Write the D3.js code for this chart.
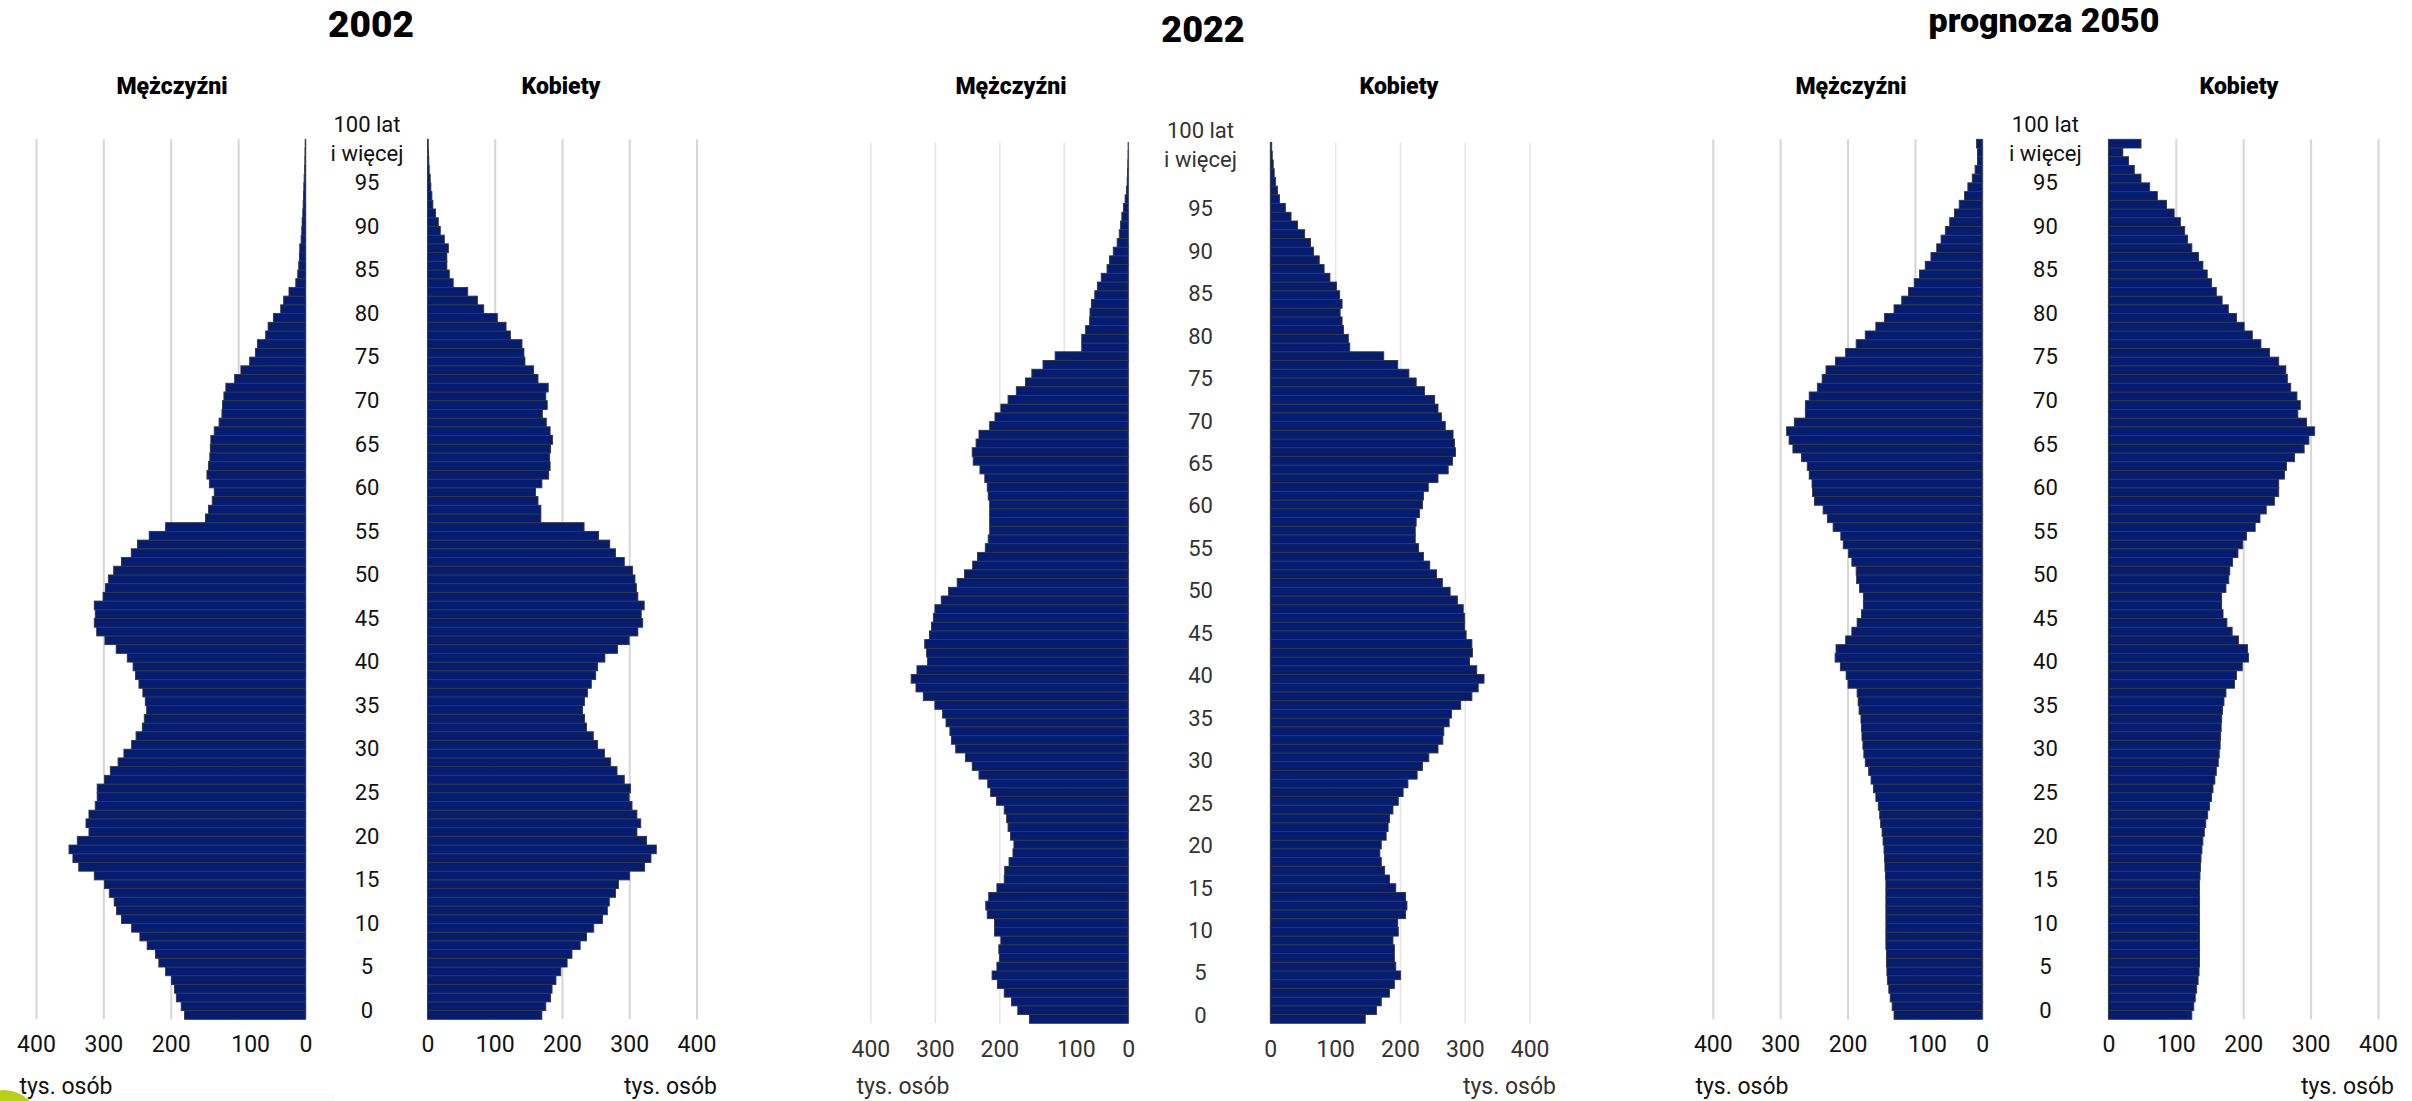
<!DOCTYPE html>
<html lang="pl">
<head>
<meta charset="utf-8">
<title>Piramida wieku ludności Polski 2002, 2022, prognoza 2050</title>
<script src="https://d3js.org/d3.v7.min.js"></script>
<style>
  html, body { margin: 0; padding: 0; background: #fff; }
  svg { display: block; }
  text { font-family: Roboto, "Noto Sans", sans-serif; }
  .title { font-weight: 900; fill: #000; }
  .sex { font-weight: 900; fill: #000; }
</style>
</head>
<body>
<div id="chart"></div>
<script>

// ages 0 .. 100 (the last bar is "100 lat i więcej"), values in thousands
var ages = d3.range(0, 101);

var men2002 = [179.5,184.5,191.7,194.6,198.9,207.6,217.7,222.7,235,245.8,
  258,273.2,280.4,284,291.2,298.4,313.5,336.6,345.2,351,
  338.7,321.4,325.8,321.4,312.1,309.2,309.2,298.4,289.7,278.2,
  269.5,258,251.5,242.2,239.3,235.7,237.8,241.4,247.2,252.3,
  255.9,264.5,281,297.7,309.9,313.5,312,313.5,300.5,297,
  292.6,284.7,273.2,258.7,249.4,232,207.6,148.5,144.1,138.4,
  135.5,142.7,146.3,144.1,142,141.3,140.5,135.5,128.3,124,
  123.2,121.1,118.2,105.2,95.9,82.9,74.2,71.4,59.1,55.5,
  47.6,36.8,32.4,24.5,14.4,11.5,10,9,8.5,6.5,
  5.5,5,4,3.5,3,2.5,2,1.5,1,0.8,0.5];

var women2002 = [170.1,175.9,183.1,185.2,191,198.2,207.6,214.8,227,236.4,
  247.2,260.2,267.4,270.3,279.6,284,300.5,322.9,332.3,340.2,
  325.8,311.4,317.1,311.4,304.1,299.8,302,292.6,281.8,272.4,
  263.1,253,246.5,236.4,233.5,230.6,233.5,237.8,243.6,250.1,
  253,263.8,282.5,299.8,312.8,320,317.8,322.2,312.8,310.6,
  308.5,304.9,292.6,279.6,271,254.4,232.8,168.6,168.6,164.3,
  160.7,170.1,180.2,182.3,181.6,183.1,186,182.3,176.6,170.8,
  178,175.9,179.5,164.3,157.8,144.9,143.4,140.5,123.2,116.8,
  103.8,83.6,74.2,59.8,38.2,32.4,28.8,28.8,31,25,
  19,16,12,8,6.5,5,4,2.5,2,1.5,1];

var men2022 = [153.4,171.4,181.2,192.5,203,211.3,203.8,200,200.8,197.7,
  207.5,207.5,218.8,221.1,216.5,203.8,192.5,191.7,185,178.9,
  177.4,182.7,186.5,188.7,192.5,204.5,213.5,218,231.6,242.1,
  252.6,267.7,274.4,276.7,282.7,288,300,318,329.3,336.8,
  327.8,311.3,312.8,315.8,308.3,305.3,302.3,300,290.2,278.9,
  265.4,254.1,241.4,233.8,221.8,217.3,215,215,215,215,
  217.3,218.8,222.6,230.1,240.6,242.1,236.1,231.6,215,206.8,
  197.7,186.5,173.7,159.4,149.6,132.3,113.5,72.2,72.2,66.2,
  60,59.4,57.1,52,48,42,33,29.3,23.3,17.3,
  14,12,10,7.5,5,3,1.8,1.2,0.8,0.5,0.3];

var women2022 = [146.5,163.7,171.2,183.9,191.4,201.1,193.6,191.4,191.4,189.2,
  197.4,196.6,208.6,210.8,208.6,193.6,183.9,176.4,171.2,169,
  171.2,178.7,181.7,183.9,189.2,197.4,204.9,212.3,226.5,234.8,
  244.5,258.7,266.2,267.7,275.9,279.6,293.8,311,320.7,329.7,
  318.5,307.3,311.8,311,302.1,299.8,299.8,297.6,288.6,277.4,
  265.4,256.4,246,236.3,228.8,223.6,223.6,225,230.3,234.8,
  236.3,243.7,258.7,274.4,281.1,285.6,284.1,281.9,269.9,264,
  258.7,253.5,237.8,225,213.8,196.6,175,122.6,120.4,112.9,
  110.7,107.7,110.7,107,102,92,83,75.5,66.6,62,
  53,41.9,32,23.2,14.2,11,8.2,6,4.5,3,2.2];

var men2050 = [131,133.8,136.7,138.8,140.9,141.6,142.3,142.3,143.1,143.1,
  143.1,143.1,143.1,143.1,143.1,143.1,143.8,144.5,145.2,145.9,
  147.3,148.8,150.9,152.3,154.4,158,161.6,165.1,168.7,173.7,
  175.8,177.2,178.6,179.4,180.1,182.9,184.3,185.8,199.3,202.1,
  210.7,218.5,217.1,202.8,193.6,185.8,179.4,176.5,176.5,182.2,
  186.5,187.2,193.6,198.6,206.4,210,221.4,229.9,236.3,249.1,
  252,252.7,256.9,259.8,268.3,281.1,286.8,290.4,279,262.6,
  262.6,256.9,244.8,237.7,232,217.8,202.8,187.2,173.7,158,
  145.2,131,119.6,109.6,101.1,93.2,84.7,76.2,67.6,61.2,
  54.8,48.4,41.3,34.2,26.3,21.4,14.9,10.7,7.1,7.1,8.5];

var women2050 = [123.8,126.7,128.8,131,133.1,134.5,135.2,135.2,135.2,135.2,
  135.2,135.2,135.2,135.2,135.2,135.2,135.9,136.7,137.4,138.8,
  140.2,142.3,144.5,147.3,150.2,153,155.2,158,160.1,163,
  164.4,165.8,166.5,167.3,168,169.4,171.5,174.4,187.2,190,
  198.6,207.8,206.4,192.9,183.6,175.8,170.1,168,168,174.4,
  178.6,180.1,184.3,192.2,199.3,205,217.8,224.9,234.2,246.3,
  252.7,252.7,261.2,264.1,276.2,290.4,297.5,306,294,281.1,
  284.7,279.7,270.5,265.5,263.3,252.7,239.1,226.3,213.5,201.4,
  190,177.9,168.7,160.1,153,146.6,140.2,133.8,123.8,117.4,
  113.2,106.8,97.5,86.1,72.6,61.2,48.4,38.4,29.9,21.4,48.4];

var titles = ["2002", "2022", "prognoza 2050"];
var sexLabels = ["Mężczyźni", "Kobiety"];
var ageTicks = d3.range(0, 100, 5);
var topLabel = ["100 lat", "i więcej"];
var valueTicks = [0, 100, 200, 300, 400];
var unitLabel = "tys. osób";

var series = [
  { men: men2002, women: women2002 },
  { men: men2022, women: women2022 },
  { men: men2050, women: women2050 }
];

// page layout of the three pyramids (pixels)
var layout = [
  { m0: 305.5, m400: 36, f0: 427.5, f400: 696.5, top: 139.3, bottom: 1019.3,
    titleX: 371, titleY: 37, titleSize: 37, mLabX: 172, fLabX: 561,
    ageX: 367, tickPad: 16, unitY: 1094, unitMX: 66, unitFX: 717,
    ink: "#111", grid: "#d6d6d6", gridW: 2 },
  { m0: 1128.3, m400: 870.4, f0: 1270.3, f400: 1529.6, top: 142.5, bottom: 1023.3,
    titleX: 1203, titleY: 41.5, titleSize: 36, mLabX: 1011, fLabX: 1399,
    ageX: 1200.5, tickPad: 17, unitY: 1094, unitMX: 903, unitFX: 1556,
    ink: "#333", grid: "#e4e4e4", gridW: 1.5,
    // age labels of this panel are spaced slightly tighter than its bars
    ageLabelRange: [1015, 208.3], topLabelY: [130, 159] },
  { m0: 1982.3, m400: 1712.8, f0: 2108.4, f400: 2378, top: 139.3, bottom: 1019.3,
    titleX: 2044, titleY: 32, titleSize: 34, mLabX: 1851, fLabX: 2239,
    ageX: 2045.4, tickPad: 16, unitY: 1094, unitMX: 1742, unitFX: 2394,
    ink: "#111", grid: "#d6d6d6", gridW: 2 }
];

var W = 2412, H = 1101;

var svg = d3.select("#chart").append("svg")
    .attr("width", W)
    .attr("height", H);

// logo fragment in the bottom-left corner
svg.append("rect")
    .attr("x", 0).attr("y", 1093).attr("width", 335).attr("height", 8)
    .attr("fill", "#fbfbfb");
svg.append("circle")
    .attr("cx", 4).attr("cy", 1125).attr("r", 35)
    .attr("fill", "#b9cf1c");

layout.forEach(function(L, i) {
  var d = series[i];
  var g = svg.append("g");

  var y = d3.scaleBand().domain(ages).range([L.bottom, L.top]).padding(0);
  var xm = d3.scaleLinear().domain([0, 400]).range([L.m0, L.m400]);
  var xf = d3.scaleLinear().domain([0, 400]).range([L.f0, L.f400]);

  // grid + value axis
  [xm, xf].forEach(function(x, side) {
    var ax = g.append("g")
        .attr("transform", "translate(0," + L.bottom + ")")
        .call(d3.axisBottom(x)
            .tickValues(valueTicks)
            .tickSize(-(L.bottom - L.top))
            .tickPadding(L.tickPad));
    ax.select(".domain").remove();
    ax.selectAll(".tick line")
        .attr("stroke", L.grid)
        .attr("stroke-width", L.gridW);
    ax.selectAll(".tick text")
        .attr("font-size", 23)
        .attr("font-family", "Roboto, sans-serif")
        .attr("fill", L.ink)
        // the "100" label on the men's side sits a little right of its gridline
        .attr("dx", function(v) { return side === 0 && v === 100 ? 12 : 0; });
  });

  // bars
  g.selectAll(".bar-m").data(ages).enter().append("rect")
      .attr("class", "bar-m")
      .attr("x", function(a) { return xm(d.men[a]); })
      .attr("y", function(a) { return y(a); })
      .attr("width", function(a) { return xm(0) - xm(d.men[a]); })
      .attr("height", y.bandwidth())
      .attr("fill", "#041d72")
      .attr("stroke", "#33363d")
      .attr("stroke-width", 0.9);

  g.selectAll(".bar-f").data(ages).enter().append("rect")
      .attr("class", "bar-f")
      .attr("x", xf(0))
      .attr("y", function(a) { return y(a); })
      .attr("width", function(a) { return xf(d.women[a]) - xf(0); })
      .attr("height", y.bandwidth())
      .attr("fill", "#041d72")
      .attr("stroke", "#33363d")
      .attr("stroke-width", 0.9);

  // age labels
  var ageY;
  if (L.ageLabelRange) {
    var ys = d3.scaleLinear().domain([0, 95]).range(L.ageLabelRange);
    ageY = function(a) { return ys(a); };
  } else {
    ageY = function(a) { return y(a) + y.bandwidth() / 2 - 5; };
  }
  g.selectAll(".age").data(ageTicks).enter().append("text")
      .attr("class", "age")
      .attr("x", L.ageX)
      .attr("y", function(a) { return ageY(a); })
      .attr("dy", "0.36em")
      .attr("text-anchor", "middle")
      .attr("font-size", 22)
      .attr("fill", L.ink)
      .text(function(a) { return a; });

  var c100 = y(100) + y.bandwidth() / 2 - 5;
  var topY = L.topLabelY || [c100 - 14.7, c100 + 14.7];
  g.selectAll(".age100").data(topLabel).enter().append("text")
      .attr("class", "age100")
      .attr("x", L.ageX)
      .attr("y", function(t, k) { return topY[k]; })
      .attr("dy", "0.36em")
      .attr("text-anchor", "middle")
      .attr("font-size", 22)
      .attr("fill", L.ink)
      .text(function(t) { return t; });

  // headings
  g.append("text")
      .attr("class", "title")
      .attr("x", L.titleX)
      .attr("y", L.titleY)
      .attr("text-anchor", "middle")
      .attr("font-size", L.titleSize)
      .text(titles[i]);

  g.selectAll(".sex").data(sexLabels).enter().append("text")
      .attr("class", "sex")
      .attr("x", function(s, k) { return k === 0 ? L.mLabX : L.fLabX; })
      .attr("y", 94)
      .attr("text-anchor", "middle")
      .attr("font-size", 23)
      .text(function(s) { return s; });

  // units
  g.append("text")
      .attr("x", L.unitMX).attr("y", L.unitY)
      .attr("text-anchor", "middle")
      .attr("font-size", 23)
      .attr("fill", L.ink)
      .text(unitLabel);
  g.append("text")
      .attr("x", L.unitFX).attr("y", L.unitY)
      .attr("text-anchor", "end")
      .attr("font-size", 23)
      .attr("fill", L.ink)
      .text(unitLabel);
});

</script>
</body>
</html>
